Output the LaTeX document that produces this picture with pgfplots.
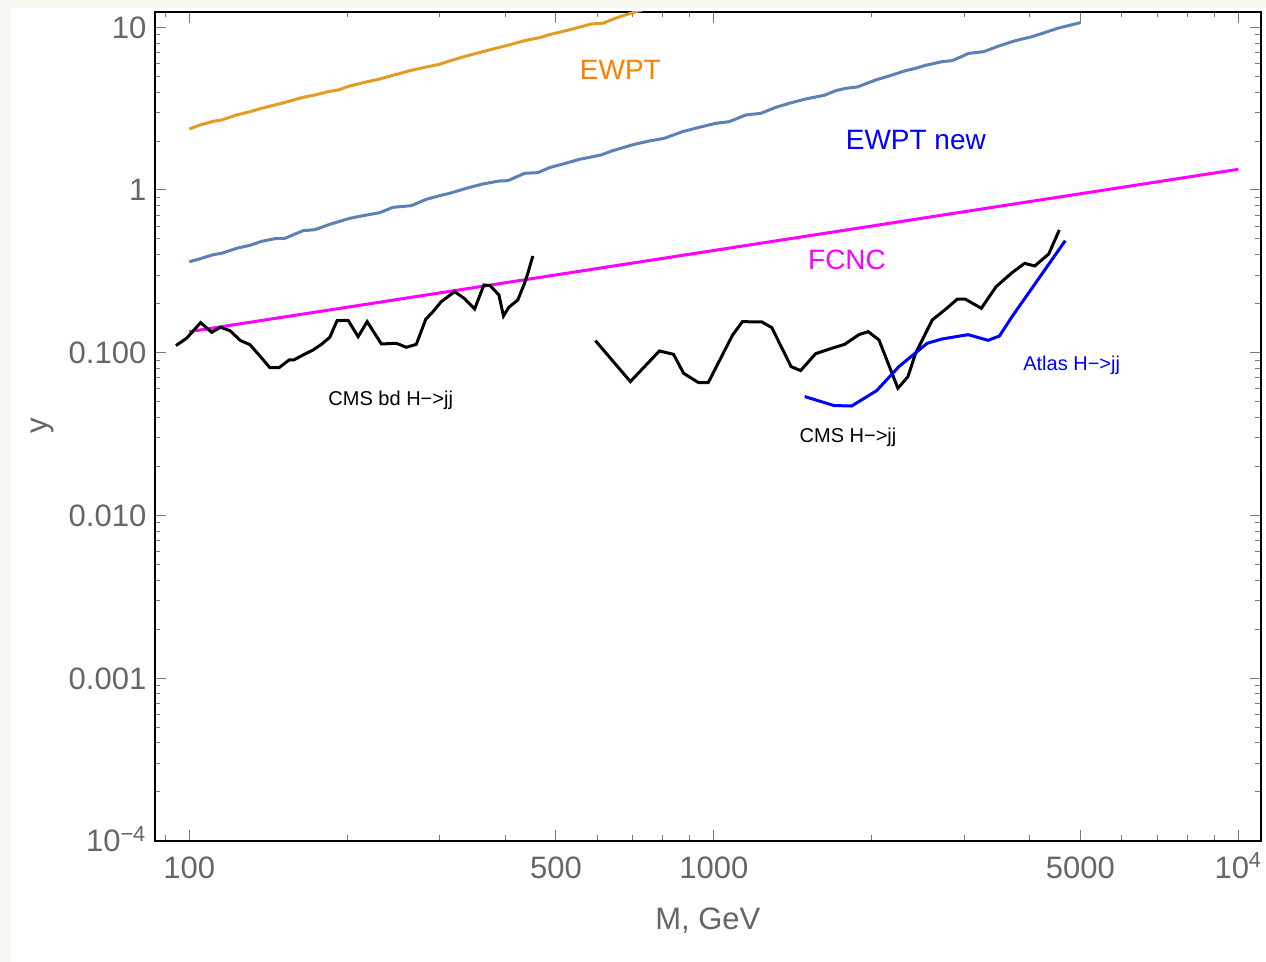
\documentclass[border=0pt]{standalone}
\usepackage{fontspec}
\setmainfont{Liberation Sans}
\usepackage{pgfplots}
\pgfplotsset{compat=1.18}
\definecolor{cream}{RGB}{247,247,240}
\definecolor{tickgray}{RGB}{102,102,102}
\definecolor{tickline}{RGB}{120,120,120}
\definecolor{ewpt}{RGB}{224,156,36}
\definecolor{ewptnew}{RGB}{94,129,181}
\definecolor{lblorange}{RGB}{255,127,0}
\definecolor{fcnc}{RGB}{255,0,255}
\definecolor{pureblue}{RGB}{0,0,255}
\begin{document}
\begin{tikzpicture}
\fill[cream] (-77.35bp,-60.65bp) rectangle (555.65bp,420.35bp);
\fill[white] (-72.35bp,-60.65bp) rectangle (555.65bp,416.35bp);
\begin{axis}[
  at={(0,0)}, anchor=south west,
  scale only axis, width=553.15bp, height=414.5bp,
  xmode=log, ymode=log,
  xmin=85.9, xmax=11050, ymin=1e-4, ymax=12.47,
  xtick={100,500,1000,5000,10000},
  xticklabels={100,500,1000,5000,10\textsuperscript{4}},
  minor xtick={90,200,300,400,600,700,800,900,2000,3000,4000,6000,7000,8000,9000},
  ytick={1e-4,1e-3,1e-2,1e-1,1,10},
  yticklabels={10\textsuperscript{−4},0.001,0.010,0.100,1,10},
  minor ytick={2e-4,3e-4,4e-4,5e-4,6e-4,7e-4,8e-4,9e-4,
               2e-3,3e-3,4e-3,5e-3,6e-3,7e-3,8e-3,9e-3,
               0.02,0.03,0.04,0.05,0.06,0.07,0.08,0.09,
               0.2,0.3,0.4,0.5,0.6,0.7,0.8,0.9,
               2,3,4,5,6,7,8,9},
  axis line style={black, line width=1bp},
  tick style={tickline, line width=0.5bp},
  major tick length=5.5bp, minor tick length=2.8bp,
  tick align=inside,
  tick label style={font=\fontsize{15.5bp}{18bp}\selectfont, text=tickgray},
  xticklabel style={anchor=base, inner sep=0pt, yshift=-18.8bp},
  yticklabel style={anchor=base east, inner sep=0pt, xshift=-4bp, yshift=-5.5bp},
  xlabel={M, GeV},
  xlabel style={at={(axis description cs:0.5,0)}, anchor=base, yshift=-44.5bp,
    font=\fontsize{15.5bp}{18bp}\selectfont, text=tickgray},
  ylabel={y},
  ylabel style={at={(axis description cs:0,0.5)}, anchor=center, yshift=56.25bp,
    font=\fontsize{15.5bp}{18bp}\selectfont, text=tickgray},
  clip=true,
]
% EWPT
\addplot[color=ewpt, line width=1.5bp] coordinates {
(100,2.371) (104.8,2.509) (111.1,2.643) (115.2,2.693) (123.1,2.891) (130.5,3.029)
(137.4,3.177) (145.6,3.330) (153.2,3.474) (164.8,3.712) (173.5,3.836) (185.3,4.041)
(192.2,4.118) (202.3,4.357) (214.5,4.568) (230.7,4.811) (244.5,5.068) (265.0,5.440)
(283.1,5.702) (297.9,5.893) (313.5,6.209) (337.3,6.662) (362.8,7.085) (390.4,7.532)
(411.0,7.858) (435.6,8.276) (465.2,8.636) (486.0,9.011) (523.0,9.535) (562.5,10.14)
(583.4,10.48) (614.1,10.58) (651.1,11.41) (700.2,12.30) (760,13.3)
};
% EWPT new
\addplot[color=ewptnew, line width=1.5bp] coordinates {
(100,0.3626) (104.0,0.3750) (111.1,0.4004) (115.2,0.4081) (123.1,0.4381) (130.5,0.4571)
(137.4,0.4835) (145.6,0.5022) (152.1,0.5046) (164.8,0.5623) (173.5,0.5703) (185.3,0.6151)
(202.3,0.6697) (214.5,0.6954) (230.7,0.7254) (244.5,0.7825) (265.0,0.8010) (283.1,0.8764)
(300.1,0.9231) (313.5,0.9539) (337.3,1.024) (362.8,1.089) (390.4,1.136) (405.0,1.141)
(435.6,1.266) (461.7,1.278) (486.0,1.372) (526.8,1.472) (554.5,1.543) (609.6,1.641)
(641.6,1.745) (705.6,1.909) (753.4,2.001) (804.5,2.078) (871.9,2.284) (938.1,2.428)
(1009,2.570) (1070,2.630) (1151,2.891) (1229,2.960) (1313,3.222) (1392,3.410)
(1497,3.626) (1623,3.818) (1708,4.078) (1784,4.216) (1877,4.296) (2035,4.744)
(2158,5.020) (2321,5.413) (2425,5.595) (2533,5.838) (2725,6.148) (2848,6.236)
(3064,6.918) (3272,7.085) (3494,7.674) (3758,8.276) (4045,8.757) (4287,9.314)
(4545,9.90) (5000,10.68)
};
% FCNC
\addplot[color=fcnc, line width=1.5bp] coordinates {
(100,0.1346) (10000,1.34)
};
% CMS bd H->jj
\addplot[color=black, line width=1.5bp] coordinates {
(94.3,0.1105) (98.8,0.1226) (105.1,0.1530) (110.3,0.1334) (114.7,0.1432) (119.5,0.1366)
(125.2,0.1186) (130.5,0.1120) (136.3,0.0954) (142.4,0.0809) (148.3,0.0809) (155.0,0.0902)
(158.2,0.0902) (164.8,0.0968) (172.2,0.1039) (178.6,0.1125) (185.3,0.1243) (191.3,0.1573)
(200.8,0.1581) (209.8,0.1254) (218.3,0.1551) (232.4,0.1131) (248.2,0.1142) (259.3,0.1079)
(270.9,0.1125) (282.3,0.1603) (291.5,0.1788) (302.2,0.2059) (320.5,0.2372) (334.8,0.2148)
(349.9,0.1856) (364.5,0.2607) (374.7,0.2582) (389.3,0.2263) (397.2,0.1681) (406.6,0.1901)
(423.0,0.2108) (435.6,0.2669) (442.0,0.3075) (451.8,0.3928)
};
% CMS H->jj
\addplot[color=black, line width=1.5bp] coordinates {
(594.6,0.1186) (693.4,0.0664) (787.4,0.1024) (838.0,0.0977) (875.8,0.0747) (935.2,0.0654)
(975.7,0.0654) (1086,0.1284) (1134,0.1551) (1235,0.1544) (1290,0.1425) (1404,0.0821)
(1464,0.0776) (1564,0.0986) (1671,0.1059) (1776,0.1125) (1891,0.1290) (1970,0.1347)
(2065,0.1197) (2244,0.0604) (2345,0.0712) (2425,0.0991) (2609,0.1589) (2766,0.1848)
(2911,0.2130) (3018,0.2130) (3237,0.1874) (3453,0.2545) (3704,0.3103) (3915,0.3541)
(4092,0.3411) (4351,0.4043) (4558,0.5677)
};
% Atlas H->jj
\addplot[color=pureblue, line width=1.5bp] coordinates {
(1491,0.0537) (1696,0.0473) (1832,0.0470) (2044,0.0584) (2254,0.0821) (2552,0.1142)
(2725,0.1214) (3054,0.1290) (3334,0.1191) (3504,0.1266) (3704,0.1665) (4679,0.4883)
};
\node[text=lblorange, font=\fontsize{14bp}{16bp}\selectfont] at (axis cs:663.5,5.47) {EWPT};
\node[text=pureblue, font=\fontsize{14bp}{16bp}\selectfont] at (axis cs:2428,2.029) {EWPT new};
\node[text=fcnc, font=\fontsize{14bp}{16bp}\selectfont] at (axis cs:1795,0.3713) {FCNC};
\node[text=black, font=\fontsize{10bp}{12bp}\selectfont] at (axis cs:242.1,0.05121) {CMS bd H−>jj};
\node[text=black, font=\fontsize{10bp}{12bp}\selectfont] at (axis cs:1803,0.03033) {CMS H−>jj};
\node[text=pureblue, font=\fontsize{10bp}{12bp}\selectfont] at (axis cs:4812,0.0840) {Atlas H−>jj};
\end{axis}
\end{tikzpicture}
\end{document}
